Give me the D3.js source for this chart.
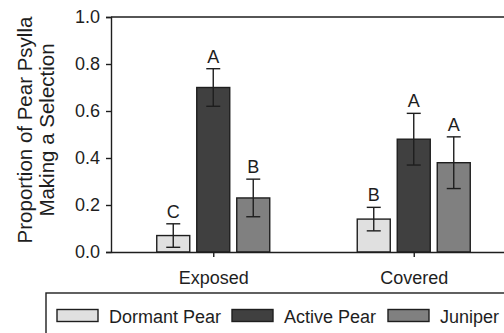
<!DOCTYPE html>
<html>
<head>
<meta charset="utf-8">
<script src="https://cdn.jsdelivr.net/npm/d3@7"></script>
<style>
  html, body { margin: 0; padding: 0; background: #fff; }
  svg { display: block; font-family: "Liberation Sans", Arial, sans-serif; }
</style>
</head>
<body>
<svg id="chart" width="504" height="333"></svg>
<script>
// Sites and host-plant treatments
const sites = ["Exposed", "Covered"];
const hosts = ["Dormant Pear", "Active Pear", "Juniper"];

// Mean proportion selecting each host, per site (order follows hosts)
const exposedMeans = [0.07, 0.70, 0.23];
const coveredMeans = [0.14, 0.48, 0.38];

// Standard error half-widths
const exposedErr = [0.05, 0.08, 0.08];
const coveredErr = [0.05, 0.11, 0.11];

// Significance letters
const exposedLetters = ["C", "A", "B"];
const coveredLetters = ["B", "A", "A"];

const yTicks = [0, 0.2, 0.4, 0.6, 0.8, 1.0];
const hostFill = ["#e0e0e0", "#404040", "#808080"];

const rows = [
  { site: "Exposed", means: exposedMeans, err: exposedErr, letters: exposedLetters },
  { site: "Covered", means: coveredMeans, err: coveredErr, letters: coveredLetters }
];

const svg = d3.select("#chart");
const mLeft = 111, mTop = 17, mBottom = 252, mRight = 516;
const ink = "#1e1e1e";

const y = d3.scaleLinear().domain([0, 1]).range([mBottom, mTop]);
const x = d3.scalePoint().domain(sites).range([mLeft, mRight]).padding(0.51);
const xh = d3.scaleBand().domain(hosts).range([-60, 60]).paddingInner(0.175).paddingOuter(0.0875);

// Frame top line
svg.append("line")
  .attr("x1", mLeft).attr("x2", mRight).attr("y1", mTop).attr("y2", mTop)
  .attr("stroke", ink).attr("stroke-width", 1.4);

// Bars, error bars, letters
rows.forEach(r => {
  const g = svg.append("g").attr("transform", `translate(${x(r.site)},0)`);
  hosts.forEach((h, i) => {
    const bx = xh(h), bw = xh.bandwidth(), cx = bx + bw / 2;
    g.append("rect")
      .attr("x", bx).attr("y", y(r.means[i]))
      .attr("width", bw).attr("height", y(0) - y(r.means[i]))
      .attr("fill", hostFill[i]).attr("stroke", ink).attr("stroke-width", 1.4);
    const hi = r.means[i] + r.err[i], lo = r.means[i] - r.err[i];
    const eb = g.append("g").attr("stroke", ink).attr("stroke-width", 1.4);
    eb.append("line").attr("x1", cx).attr("x2", cx).attr("y1", y(hi)).attr("y2", y(lo));
    eb.append("line").attr("x1", cx - 7).attr("x2", cx + 7).attr("y1", y(hi)).attr("y2", y(hi));
    eb.append("line").attr("x1", cx - 7).attr("x2", cx + 7).attr("y1", y(lo)).attr("y2", y(lo));
    g.append("text")
      .attr("x", cx).attr("y", y(hi) - 6)
      .attr("text-anchor", "middle").attr("font-size", 18).attr("fill", ink)
      .text(r.letters[i]);
  });
});

// Y axis
const yAxis = svg.append("g").attr("transform", `translate(${mLeft},0)`)
  .call(d3.axisLeft(y).tickValues(yTicks).tickFormat(d3.format(".1f")).tickSize(5).tickPadding(6));
yAxis.select(".domain").attr("stroke", ink).attr("stroke-width", 1.4);
yAxis.selectAll(".tick line").attr("stroke", ink).attr("stroke-width", 1.4);
yAxis.selectAll(".tick text").attr("font-size", 18).attr("fill", ink)
  .attr("font-family", "Liberation Sans, Arial, sans-serif");

// X axis
const xAxis = svg.append("g").attr("transform", `translate(0,${mBottom})`)
  .call(d3.axisBottom(x).tickSize(5).tickPadding(14).tickSizeOuter(0));
xAxis.select(".domain").attr("stroke", ink).attr("stroke-width", 1.4);
xAxis.selectAll(".tick line").attr("stroke", ink).attr("stroke-width", 1.4);
xAxis.selectAll(".tick text").attr("font-size", 18).attr("fill", ink)
  .attr("font-family", "Liberation Sans, Arial, sans-serif");

// Y axis title (two lines)
const yt = svg.append("text")
  .attr("transform", `translate(32,130) rotate(-90)`)
  .attr("text-anchor", "middle").attr("font-size", 20.5).attr("fill", ink);
yt.append("tspan").attr("x", 0).attr("dy", 0).text("Proportion of Pear Psylla");
yt.append("tspan").attr("x", 0).attr("dy", 22).text("Making a Selection");

// Legend
const lg = svg.append("g");
lg.append("rect").attr("x", 46).attr("y", 293).attr("width", 480).attr("height", 60)
  .attr("fill", "none").attr("stroke", ink).attr("stroke-width", 1.4);
const legendX = [57, 232, 388];
hosts.forEach((h, i) => {
  lg.append("rect").attr("x", legendX[i]).attr("y", 309.5).attr("width", 41).attr("height", 12)
    .attr("fill", hostFill[i]).attr("stroke", ink).attr("stroke-width", 1.4);
  lg.append("text").attr("x", legendX[i] + 52).attr("y", 322.5)
    .attr("font-size", 18).attr("fill", ink).text(h);
});
</script>
</body>
</html>
